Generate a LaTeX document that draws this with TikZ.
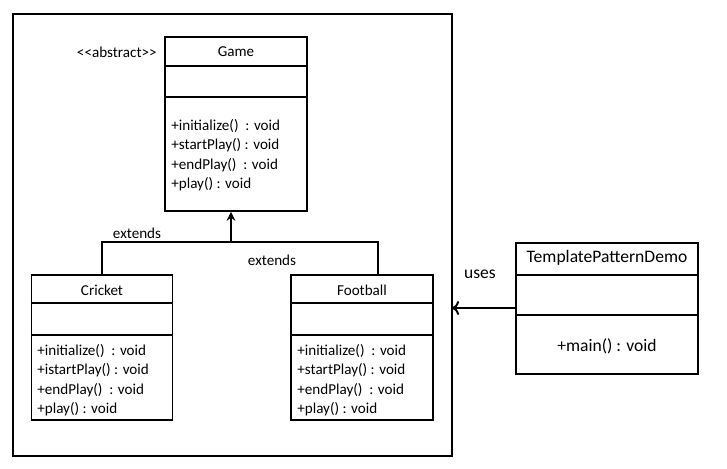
\documentclass[tikz,border=0pt]{standalone}
\usepackage{fontspec}
\setmainfont{Carlito}
\usetikzlibrary{positioning,arrows.meta}

\tikzset{
  umlbox/.style={draw=black, line width=1.1pt, fill=white, inner sep=0pt},
  umltext/.style={inner sep=0pt, font=\fontsize{8.6}{10}\selectfont},
  bigtext/.style={inner sep=0pt, font=\fontsize{10}{12}\selectfont},
  methods/.style={umltext, anchor=north west, align=left, font=\fontsize{8.6}{11}\selectfont},
  link/.style={line width=1.1pt}
}

\begin{document}
\begin{tikzpicture}[x=0.02cm, y=-0.02cm]
      \useasboundingbox (0,0) rectangle (727,468);
      % frame round the pattern classes
      \draw[line width=1.1pt] (13,14) rectangle (452,456);
      % Game
      \node[umlbox, minimum width=2.84cm, minimum height=3.48cm] (game) at (236,124) {};
      \draw[line width=1.1pt] (game.north west) ++(0,30) -- ++(142,0);
      \draw[line width=1.1pt] (game.north west) ++(0,61) -- ++(142,0);
      \node[umltext] (gametitle) at (236,52) {Game};
      \node[umltext, anchor=east] (abstract) at (157,52) {<{}<abstract>{}>};
      \node[methods] (gameops) at (171,119) {+initialize()~ : void\\+startPlay() : void\\+endPlay()~ : void\\+play() : void};
      % Cricket
      \node[umlbox, minimum width=2.82cm, minimum height=2.9cm] (cricket) at (102,347.5) {};
      \draw[line width=1.1pt] (cricket.north west) ++(0,29) -- ++(141,0);
      \draw[line width=1.1pt] (cricket.north west) ++(0,61) -- ++(141,0);
      \node[umltext] (crickettitle) at (102,290) {Cricket};
      \node[methods] (cricketops) at (37,344) {+initialize()~ : void\\+istartPlay() : void\\+endPlay()~ : void\\+play() : void};
      % Football
      \node[umlbox, minimum width=2.84cm, minimum height=2.9cm] (football) at (362,347.5) {};
      \draw[line width=1.1pt] (football.north west) ++(0,29) -- ++(142,0);
      \draw[line width=1.1pt] (football.north west) ++(0,61) -- ++(142,0);
      \node[umltext] (footballtitle) at (362,290) {Football};
      \node[methods] (footballops) at (297,344) {+initialize()~ : void\\+startPlay() : void\\+endPlay()~ : void\\+play() : void};
      % TemplatePatternDemo
      \node[umlbox, minimum width=3.64cm, minimum height=2.62cm] (demo) at (607,308.5) {};
      \draw[line width=1.1pt] (demo.north west) ++(0,33) -- ++(182,0);
      \draw[line width=1.1pt] (demo.north west) ++(0,73) -- ++(182,0);
      \node[bigtext] (demotitle) at (607,258) {TemplatePatternDemo};
      \node[bigtext] (demoops) at (607,346) {+main() : void};
      % inheritance
      \coordinate (join) at (231,242);
      \draw[link] (cricket.north -| 102,0) |- (join) -| (football.north -| 378,0);
      \draw[line width=1.6pt, -{Stealth[length=5pt, width=5pt]}] (join) -- (game.south -| join);
      \node[umltext] (ext1) at (137,233) {extends};
      \node[umltext] (ext2) at (272,260) {extends};
      % uses
      \coordinate (frameedge) at (452,308);
      \draw[link, -{To[length=4pt, width=8pt]}] (demo.west |- frameedge) -- (frameedge);
      \node[bigtext] (uses) at (480,274) {uses};
\end{tikzpicture}
\end{document}
